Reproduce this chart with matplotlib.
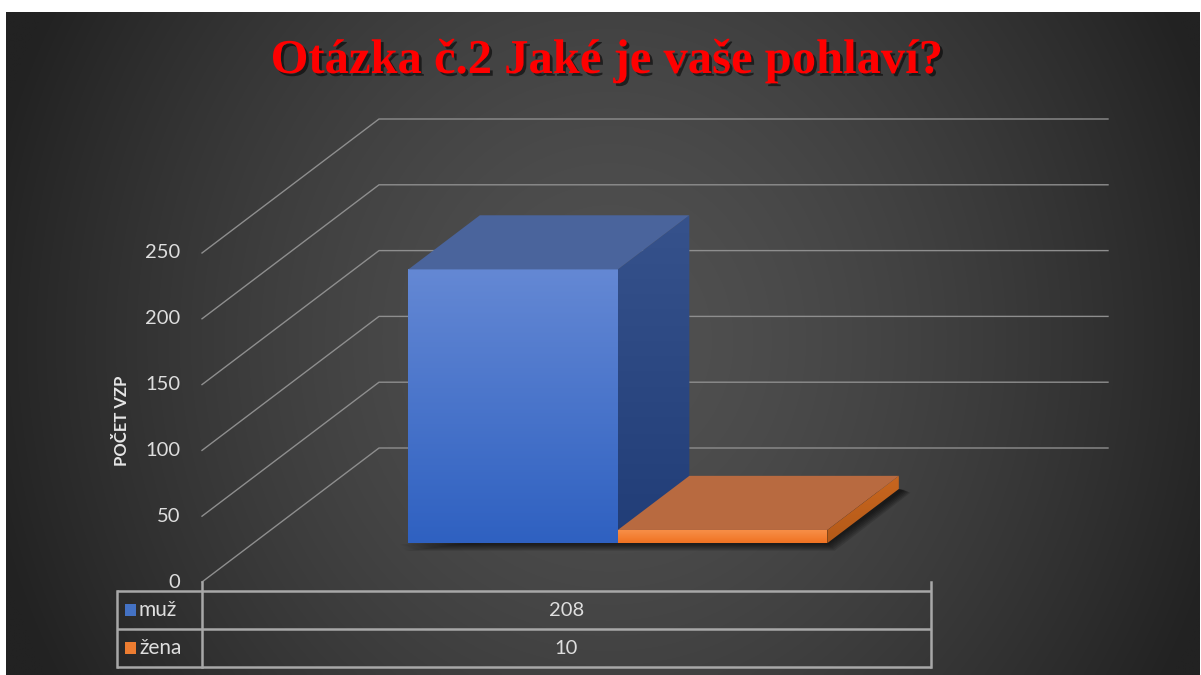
import matplotlib
matplotlib.use("Agg")
import matplotlib.pyplot as plt
import matplotlib.patheffects as pe
from matplotlib.patches import Polygon
from matplotlib.colors import LinearSegmentedColormap
import numpy as np

# chart data
title = "Otázka č.2 Jaké je vaše pohlaví?"
series_names = ["muž", "žena"]
series_values = [208, 10]
y_ticks = [0, 50, 100, 150, 200, 250]
y_label = "POČET VZP"

# colours per series: front top, front bottom, side top, side bottom, top face, legend
blue = ["#6488d4", "#2f61c1", "#36528c", "#213d77", "#4a649c", "#4472c4"]
orange = ["#f8914a", "#f07222", "#c8661f", "#b55a18", "#b86a40", "#ed7d31"]
series_colors = [blue, orange]

W, H = 1201, 675
fig = plt.figure(figsize=(W / 100, H / 100), dpi=100)
fig.patch.set_facecolor("white")
ax = fig.add_axes([0, 0, 1, 1])
ax.set_xlim(0, W)
ax.set_ylim(H, 0)
ax.axis("off")

# radial dark background
bx0, bx1, by0, by1 = 6, 1200, 12, 675
xx, yy = np.meshgrid(np.linspace(bx0, bx1, 400), np.linspace(by0, by1, 240))
r = np.sqrt(((xx - 610) / 640) ** 2 + ((yy - 340) / 700) ** 2)
shade = np.clip(0x51 - (0x51 - 0x22) * r ** 1.5, 0x22, 0x51) / 255
bg = np.dstack([shade, shade, shade])
ax.imshow(bg, extent=(bx0, bx1, by1, by0), aspect="auto", zorder=0, interpolation="bilinear")

# oblique projection of the 3d plot box
X0, X1 = 202, 931
Y0 = 582
SCALE = 329 / 250
DX, DY = 177, 134
grid_col = "#8e8e8e"
text_col = "#dedede"


def proj(x, v, d):
    return (x + d * DX, Y0 - v * SCALE - d * DY)


# gridlines: side wall + back wall
for t in y_ticks:
    p0 = proj(X0, t, 0)
    p1 = proj(X0, t, 1)
    p2 = proj(X1, t, 1)
    ax.plot([p0[0], p1[0], p2[0]], [p0[1], p1[1], p2[1]], color=grid_col, lw=1, zorder=1)
    ax.text(180, p0[1], str(t), ha="right", va="center", fontsize=14.5,
            color=text_col, family="Lato", zorder=5)

ax.text(122, 421, y_label, rotation=90, ha="center", va="center", fontsize=12,
        fontweight="bold", color="#e6e6e6", family="Lato", zorder=5)

# bars
n = len(series_values)
gap_ratio = 0.74
bar_w = (X1 - X0) / (n + 2 * gap_ratio)
d_front, d_back = 0.29, 0.694
first_x = X0 + gap_ratio * bar_w

# shadow under the bars
foot = [proj(first_x, 0, d_front), proj(first_x + n * bar_w, 0, d_front),
        proj(first_x + n * bar_w, 0, d_back)]
for k in range(6):
    off = 1.5 + k * 1.2
    pts = [(foot[0][0] - 8 + k, foot[0][1] + off), (foot[1][0] + off, foot[1][1] + off),
           (foot[2][0] + off + 4, foot[2][1] + off * 0.5), (foot[2][0], foot[2][1])]
    ax.add_patch(Polygon(pts, closed=True, facecolor="black", edgecolor="none",
                         alpha=0.13, zorder=2))


def gradient_face(pts, c_top, c_bot, z):
    poly = Polygon(pts, closed=True, facecolor="none", edgecolor="none", zorder=z)
    ax.add_patch(poly)
    xs = [p[0] for p in pts]
    ys = [p[1] for p in pts]
    cmap = LinearSegmentedColormap.from_list("f", [c_top, c_bot])
    grad = np.linspace(0, 1, 100).reshape(-1, 1)
    im = ax.imshow(grad, cmap=cmap, extent=(min(xs), max(xs), max(ys), min(ys)),
                   aspect="auto", zorder=z, interpolation="bilinear")
    im.set_clip_path(poly)


for i, (v, cols) in enumerate(zip(series_values, series_colors)):
    xl = first_x + i * bar_w
    xr = xl + bar_w
    z = 3 + i
    front = [proj(xl, 0, d_front), proj(xr, 0, d_front), proj(xr, v, d_front), proj(xl, v, d_front)]
    side = [proj(xr, 0, d_front), proj(xr, 0, d_back), proj(xr, v, d_back), proj(xr, v, d_front)]
    top = [proj(xl, v, d_front), proj(xr, v, d_front), proj(xr, v, d_back), proj(xl, v, d_back)]
    gradient_face(front, cols[0], cols[1], z)
    gradient_face(side, cols[2], cols[3], z)
    ax.add_patch(Polygon(top, closed=True, facecolor=cols[4], edgecolor="none", zorder=z))

# data table
tab_col = "#a8a8a8"
tab_left = 117
row_edges = [591, 629, 667]
for y in row_edges:
    ax.plot([tab_left, X1], [y, y], color=tab_col, lw=1.8, zorder=5, solid_capstyle="butt")
ax.plot([tab_left, tab_left], [row_edges[0], row_edges[-1]], color=tab_col, lw=1.8, zorder=5)
ax.plot([X0, X0], [Y0, row_edges[-1]], color=tab_col, lw=1.8, zorder=5)
ax.plot([X1, X1], [Y0, row_edges[-1]], color=tab_col, lw=1.8, zorder=5)

for i, (name, v, cols) in enumerate(zip(series_names, series_values, series_colors)):
    yc = (row_edges[i] + row_edges[i + 1]) / 2
    ax.add_patch(plt.Rectangle((125, yc - 6), 11, 12, facecolor=cols[5], edgecolor="none", zorder=6))
    ax.text(139, yc, name, ha="left", va="center", fontsize=15, color=text_col,
            family="Lato", zorder=6)
    ax.text((X0 + X1) / 2, yc, str(v), ha="center", va="center", fontsize=14.5,
            color=text_col, family="Lato", zorder=6)

# title with shadow
ax.text(607, 73, title, ha="center", va="baseline", fontsize=35, fontweight="bold",
        color="#ff0000", family="Liberation Serif", zorder=7,
        path_effects=[pe.withSimplePatchShadow(offset=(2, -2), shadow_rgbFace="black", alpha=0.55)])

fig.savefig("out.png", dpi=100, facecolor=fig.get_facecolor())
